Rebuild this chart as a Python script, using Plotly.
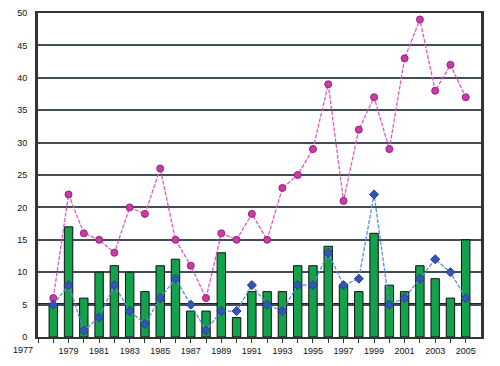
import plotly.graph_objects as go

years = list(range(1978, 2006))
bars = [5, 17, 6, 10, 11, 10, 7, 11, 12, 4, 4, 13, 3, 7, 7, 7, 11, 11, 14, 8, 7, 16, 8, 7, 11, 9, 6, 15]
pink = [6, 22, 16, 15, 13, 20, 19, 26, 15, 11, 6, 16, 15, 19, 15, 23, 25, 29, 39, 21, 32, 37, 29, 43, 49, 38, 42, 37]
blue = [5, 8, 1, 3, 8, 4, 2, 6, 9, 5, 1, 4, 4, 8, 5, 4, 8, 8, 13, 8, 9, 22, 5, 6, 9, 12, 10, 6]
tick_years = list(range(1977, 2006))
tick_text = ["" if (y % 2 == 0 or y == 1977) else str(y) for y in tick_years]
y_ticks = list(range(0, 51, 5))

font = dict(family="Liberation Sans Narrow, Liberation Sans, Arial", size=9, color="#111")

fig = go.Figure()
fig.add_trace(go.Bar(x=years, y=bars, width=0.55,
                     marker=dict(color="#13a24c", line=dict(color="#111", width=1))))
fig.add_trace(go.Scatter(x=years, y=pink, mode="lines+markers",
                         line=dict(color="#dc5cbf", width=1.3, dash="4px,1.5px"),
                         marker=dict(symbol="circle", size=7, color="#c83ca6",
                                     line=dict(color="#9a1f80", width=1))))
fig.add_trace(go.Scatter(x=years, y=blue, mode="lines+markers",
                         line=dict(color="#5b8fd8", width=1.3, dash="4px,1.5px"),
                         marker=dict(symbol="diamond", size=7, color="#3355b5",
                                     line=dict(color="#22408f", width=1))))

fig.add_hline(y=5, line=dict(color="#222", width=3), layer="below")

fig.add_annotation(x=-0.06, y=0, xref="paper", yref="paper", text="1977",
                   showarrow=False, yanchor="top", yshift=-6, font=font)

fig.update_layout(
    width=500, height=366,
    margin=dict(l=30, r=27, t=5, b=37),
    paper_bgcolor="white", plot_bgcolor="white",
    showlegend=False, bargap=0.4,
    font=font,
)
fig.update_xaxes(range=[1977, 2006], tickvals=tick_years, ticktext=tick_text,
                 ticks="outside", ticklen=4, tickcolor="#333", tickwidth=1,
                 showgrid=False, showline=True, linecolor="#333", linewidth=2,
                 mirror=True, tickangle=0, tickfont=font, automargin=False)
fig.update_yaxes(range=[0, 50], tickvals=y_ticks, showgrid=True,
                 gridcolor="#434d59", gridwidth=2, showline=True,
                 linecolor="#333", linewidth=3, mirror=True, zeroline=False,
                 ticks="", ticklen=0, tickfont=font, automargin=False,
                 ticklabelstandoff=6)

fig.write_html("out.html")
